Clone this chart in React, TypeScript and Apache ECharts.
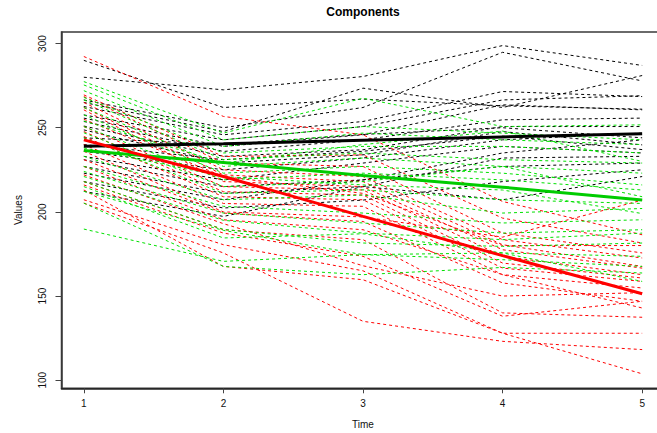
import React, { useEffect, useRef } from "react";
import * as echarts from "echarts";

const times = [1, 2, 3, 4, 5];
const tickValuesX = [1, 2, 3, 4, 5];
const tickValuesY = [100, 150, 200, 250, 300];

const blackLines: number[][] = [
  [290, 262, 267, 263, 261],
  [280, 272.5, 280.4, 298.8, 287],
  [266.5, 250, 262, 294.8, 277.8],
  [265, 247.7, 273.5, 262, 281],
  [262.6, 245.8, 253.7, 271.5, 268.5],
  [257.6, 242.8, 250.7, 266.5, 269],
  [255.7, 238.9, 245.8, 263.6, 260.6],
  [253.7, 235.9, 242.8, 254.7, 255.7],
  [251, 233, 236.9, 250.7, 250.7],
  [248.7, 229, 233.9, 247.7, 239.8],
  [236, 225, 232, 242.8, 246.8],
  [233, 219, 229, 238.9, 235],
  [231, 215, 219, 235, 242.8],
  [227, 211, 215, 232, 233],
  [223, 207.2, 219, 227, 229],
  [218, 202.3, 207, 218, 225],
  [212.2, 197.3, 215, 207.2, 221],
  [240, 231, 236, 245, 237],
  [244, 240, 246, 250, 244],
];

const greenLines: number[][] = [
  [277.4, 246.8, 267.5, 250.7, 251.7],
  [275.4, 242.8, 250.7, 246.8, 242.8],
  [272, 238.9, 246.8, 242.8, 240],
  [268, 235, 238.9, 238.9, 235],
  [266.5, 231, 235, 231, 229],
  [262, 227, 232, 227, 223],
  [257.6, 223, 227, 223, 216],
  [250.7, 219, 223, 219, 213],
  [247, 215, 218, 227, 209],
  [244, 211, 213.1, 207.2, 205],
  [233, 207.2, 210, 199.3, 202],
  [227, 203.3, 199.3, 193.4, 195.3],
  [224, 199.3, 193.4, 187.4, 189.4],
  [221, 195, 187.4, 183.5, 187.4],
  [218, 189.6, 181.5, 179.5, 181.5],
  [215, 184.5, 187, 175.6, 173.6],
  [212.2, 189, 174.6, 171.6, 167.6],
  [205.2, 167.6, 162.7, 167, 163.7],
  [189.8, 170.6, 174.6, 175.6, 158.7],
  [238, 221, 216, 213, 199],
  [254, 229, 240, 248, 230],
];

const redLines: number[][] = [
  [292.3, 256.7, 245.8, 206.2, 186.4],
  [269.5, 232.9, 233.9, 196.3, 181.5],
  [268.5, 229, 227, 187.4, 175.6],
  [265, 225, 221, 183.5, 172.6],
  [262, 222, 218, 180.5, 167.6],
  [260.6, 218, 215, 177.5, 166.6],
  [250.7, 215, 213, 173.6, 162.7],
  [247.7, 212, 210, 169.6, 160.7],
  [244.8, 209, 207.2, 166.6, 158.7],
  [240, 205, 203.3, 162.7, 154.8],
  [231, 199.3, 194.3, 157.8, 146.9],
  [227, 195.3, 189.4, 162.7, 142.9],
  [218, 189.4, 183.5, 140, 137.4],
  [216, 187.4, 173.6, 138, 146.9],
  [207.2, 180.5, 165, 127.9, 103.8],
  [205.2, 175.6, 135, 123.1, 118.2],
  [213, 167.6, 159.7, 127.9, 127.9],
  [236, 200, 197, 185, 207],
  [255, 221, 211, 180, 180],
  [222, 193, 168, 150, 152],
];

const blackMean = [239, 240.5, 242.5, 244.5, 246.4];
const greenMean = [236.5, 229.4, 221.6, 214.7, 207];
const redMean = [242.8, 221, 197.3, 174, 151.4];

const FONT = "'Liberation Sans', Arial, Helvetica, sans-serif";

function toPoints(vals: number[]) {
  return vals.map((v, i) => [times[i], v]);
}

export default function App() {
  const ref = useRef<HTMLDivElement>(null);
  useEffect(() => {
    document.body.style.margin = "0";
    if (!ref.current) return;
    const chart = echarts.init(ref.current, undefined, { renderer: "svg" });

    const dashed = (vals: number[], color: string) => ({
      type: "line",
      data: toPoints(vals),
      symbol: "none",
      silent: true,
      lineStyle: { color, width: 1, type: [3, 3] },
    });
    const solid = (vals: number[], color: string) => ({
      type: "line",
      data: toPoints(vals),
      symbol: "none",
      silent: true,
      lineStyle: { color, width: 3, type: "solid" },
    });

    const series: any[] = [
      ...blackLines.map((l) => dashed(l, "#000000")),
      ...redLines.map((l) => dashed(l, "#ff0000")),
      ...greenLines.map((l) => dashed(l, "#00e000")),
      solid(blackMean, "#000000"),
      solid(greenMean, "#00cc00"),
      solid(redMean, "#ff0000"),
    ];

    chart.setOption({
      animation: false,
      backgroundColor: "#ffffff",
      grid: {
        left: 61.5,
        top: 32.1,
        width: 603,
        height: 356.2,
        show: true,
        borderColor: "#3a3a3a",
        borderWidth: 1.5,
        containLabel: false,
        outerBoundsMode: "none",
      },
      xAxis: {
        type: "value",
        min: 0.84,
        max: 5.16,
        splitLine: { show: false },
        axisLine: { show: true, onZero: false, lineStyle: { color: "#222", width: 1.5 } },
        axisTick: {
          show: true,
          length: 5,
          customValues: tickValuesX,
          lineStyle: { color: "#444", width: 1 },
        },
        axisLabel: {
          show: true,
          customValues: tickValuesX,
          margin: 10,
          color: "#111",
          fontSize: 10,
          fontFamily: FONT,
        },
      },
      yAxis: {
        type: "value",
        min: 95.2,
        max: 306.8,
        splitLine: { show: false },
        axisLine: { show: true, onZero: false, lineStyle: { color: "#3a3a3a", width: 1.5 } },
        axisTick: {
          show: true,
          length: 6,
          customValues: tickValuesY,
          lineStyle: { color: "#444", width: 1 },
        },
        axisLabel: {
          show: true,
          customValues: tickValuesY,
          rotate: 90,
          margin: 14,
          color: "#111",
          fontSize: 10,
          fontFamily: FONT,
        },
      },
      graphic: [
        {
          type: "text",
          x: 363,
          y: 12,
          style: {
            text: "Components",
            fontSize: 12,
            fontWeight: "bold",
            fontFamily: FONT,
            fill: "#000",
            textAlign: "center",
            textVerticalAlign: "middle",
          },
        },
        {
          type: "text",
          x: 363,
          y: 424,
          style: {
            text: "Time",
            fontSize: 10,
            fontFamily: FONT,
            fill: "#111",
            textAlign: "center",
            textVerticalAlign: "middle",
          },
        },
        {
          type: "text",
          x: 18,
          y: 210,
          rotation: Math.PI / 2,
          style: {
            text: "Values",
            fontSize: 10,
            fontFamily: FONT,
            fill: "#111",
            textAlign: "center",
            textVerticalAlign: "middle",
          },
        },
      ],
      series,
    });
    return () => chart.dispose();
  }, []);
  return (
    <div
      ref={ref}
      style={{ position: "fixed", left: 0, top: 0, width: 657, height: 433 }}
    />
  );
}
